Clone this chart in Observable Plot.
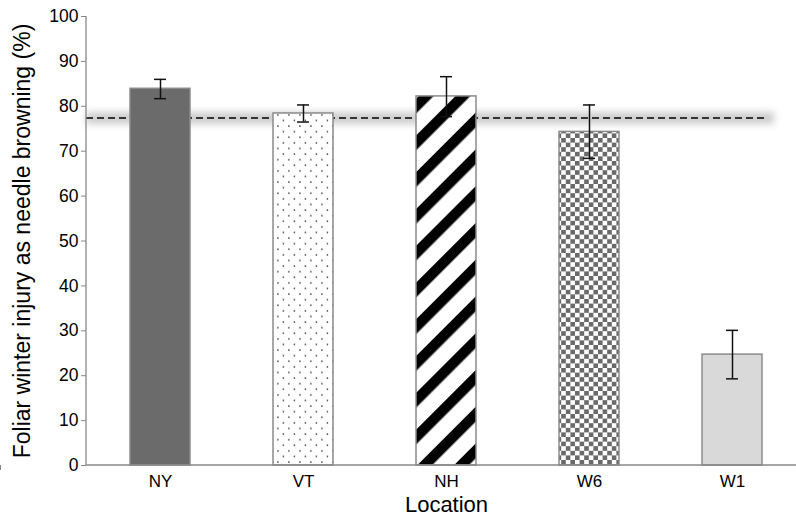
<!DOCTYPE html>
<html><head><meta charset="utf-8">
<script src="https://cdn.jsdelivr.net/npm/d3@7"></script>
<script src="https://cdn.jsdelivr.net/npm/@observablehq/plot@0.6"></script>
<style>html,body{margin:0;padding:0;background:#fff;overflow:hidden}</style>
</head><body><div id="chart"></div>
<script>
const locations = ["NY", "VT", "NH", "W6", "W1"];
const means = [83.9, 78.4, 82.2, 74.3, 24.7];
const errLow = [81.7, 76.5, 77.7, 68.4, 19.3];
const errHigh = [86.0, 80.3, 86.6, 80.3, 30.1];
const fills = ["#6b6b6b", "url(#dots)", "url(#stripes)", "url(#checks)", "#d9d9d9"];
const refLine = 77.4;
const yTicks = d3.range(0, 101, 10);
const yTitle = "Foliar winter injury as needle browning (%)";
const xTitle = "Location";

const data = locations.map((loc, i) => ({loc, mean: means[i], lo: errLow[i], hi: errHigh[i], fill: fills[i]}));

function defs() {
  const d = d3.create("svg:defs");
  const dots = d.append("pattern").attr("id", "dots").attr("patternUnits", "userSpaceOnUse")
    .attr("width", 11).attr("height", 11.2);
  dots.append("rect").attr("width", 11).attr("height", 11.2).attr("fill", "#fff");
  dots.append("rect").attr("x", 2.2).attr("y", 2.2).attr("width", 1.4).attr("height", 1.4).attr("fill", "#333");
  dots.append("rect").attr("x", 7.7).attr("y", 7.8).attr("width", 1.4).attr("height", 1.4).attr("fill", "#333");
  const st = d.append("pattern").attr("id", "stripes").attr("patternUnits", "userSpaceOnUse")
    .attr("width", 26).attr("height", 26).attr("patternTransform", "rotate(45)");
  st.append("rect").attr("width", 26).attr("height", 26).attr("fill", "#fff");
  st.append("rect").attr("width", 10.5).attr("height", 26).attr("fill", "#000");
  const c = 4.6;
  const ch = d.append("pattern").attr("id", "checks").attr("patternUnits", "userSpaceOnUse")
    .attr("width", 2 * c).attr("height", 2 * c);
  ch.append("rect").attr("width", 2 * c).attr("height", 2 * c).attr("fill", "#fff");
  ch.append("rect").attr("width", c).attr("height", c).attr("fill", "#6a6a6a");
  ch.append("rect").attr("x", c).attr("y", c).attr("width", c).attr("height", c).attr("fill", "#6a6a6a");
  return d.node();
}

function axisLines(index, scales, values, dims) {
  const g = d3.create("svg:g").attr("stroke", "#888").attr("stroke-width", 1.3);
  const x = scales.x, y = scales.y;
  const y0 = y(0), yTop = y(100);
  const left = dims.marginLeft;
  g.append("line").attr("x1", left).attr("x2", left).attr("y1", yTop).attr("y2", y0);
  g.append("line").attr("x1", left).attr("x2", dims.width).attr("y1", y0).attr("y2", y0);
  const step = x(locations[1]) - x(locations[0]);
  const gap = (step - x.bandwidth) / 2;
  const bounds = locations.map(l => x(l) - gap).concat([x(locations[locations.length - 1]) + x.bandwidth + gap]);
  for (const b of bounds) g.append("line").attr("x1", b).attr("x2", b).attr("y1", y0).attr("y2", y0 + 5);
  return g.node();
}

const chart = Plot.plot({
  width: 796, height: 516,
  marginLeft: 86, marginRight: 0, marginTop: 16, marginBottom: 51,
  x: {domain: locations, range: [86, 806], paddingInner: 0.5833, paddingOuter: 0.2917, axis: null},
  y: {domain: [0, 100], axis: null},
  color: {type: "identity"},
  style: {fontFamily: "'Liberation Sans', Arial, Helvetica, sans-serif", background: "#fff", color: "#000"},
  marks: [
    defs,
    Plot.ruleY([refLine], {stroke: "#cdcdcd", strokeWidth: 12, insetRight: 22, imageFilter: "blur(3.5px)"}),
    Plot.ruleY([refLine], {stroke: "#000", strokeWidth: 1.5, strokeDasharray: "7,4", insetRight: 29}),
    Plot.barY(data, {x: "loc", y: "mean", fill: "fill", stroke: "#8a8a8a", strokeWidth: 1.5}),
    Plot.ruleX(data, {x: "loc", y1: "lo", y2: "hi", stroke: "#111", strokeWidth: 1.5}),
    Plot.tickY(data, {x: "loc", y: "lo", stroke: "#111", strokeWidth: 1.5, insetLeft: 24, insetRight: 24}),
    Plot.tickY(data, {x: "loc", y: "hi", stroke: "#111", strokeWidth: 1.5, insetLeft: 24, insetRight: 24}),
    axisLines,
    Plot.axisY(yTicks, {tickSize: 5, text: null, stroke: "#888", label: null}),
    Plot.axisY(yTicks, {tickSize: 0, tickPadding: 8, fontSize: 17.5, fill: "#000", label: null}),
    Plot.axisX({tickSize: 0, tickPadding: 9, fontSize: 17, fill: "#000", label: null}),
    Plot.text([yTitle], {frameAnchor: "left", textAnchor: "middle", rotate: -90, dx: -64, fontSize: 23, fill: "#000"}),
    Plot.text([xTitle], {frameAnchor: "bottom", textAnchor: "middle", lineAnchor: "middle", dx: 5, dy: 39, fontSize: 22, fill: "#000"})
  ]
});
document.getElementById("chart").appendChild(chart);
</script>
</body></html>
